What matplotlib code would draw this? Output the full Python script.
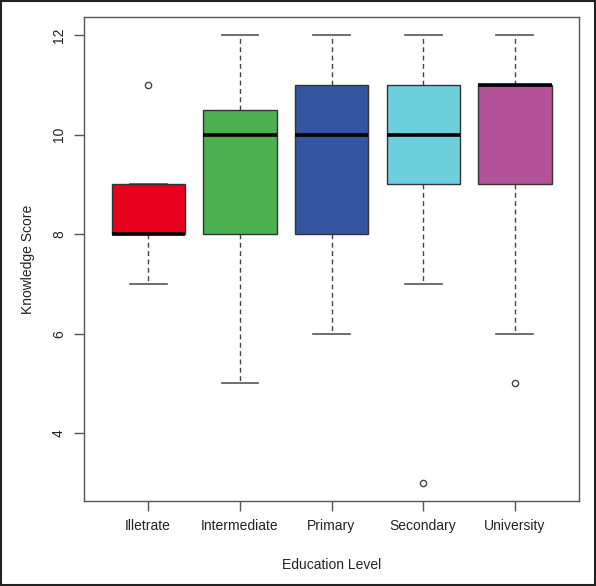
import matplotlib
matplotlib.use("Agg")
import matplotlib.pyplot as plt
from matplotlib.patches import Rectangle

plt.rcParams['font.family'] = ['Liberation Sans', 'DejaVu Sans']

# --- data -------------------------------------------------------------------
levels = ["Illetrate", "Intermediate", "Primary", "Secondary", "University"]
whisker_lo = [7, 5, 6, 7, 6]
q1 = [8, 8, 8, 9, 9]
median = [8, 10, 10, 10, 11]
q3 = [9, 10.5, 11, 11, 11]
whisker_hi = [9, 12, 12, 12, 12]
outliers = [[11], [], [], [3], [5]]
colors = ["#E8001F", "#4CB050", "#3456A0", "#6DCFDB", "#B35199"]

stats = [dict(label=lab, whislo=lo, q1=a, med=m, q3=b, whishi=hi, fliers=fl)
         for lab, lo, a, m, b, hi, fl in zip(levels, whisker_lo, q1, median, q3,
                                              whisker_hi, outliers)]

fig = plt.figure(figsize=(5.96, 5.86), dpi=100)
ax = fig.add_axes([84 / 596, 1 - 501 / 586, 495 / 596, 484 / 586])

edge = "#333333"
bp = ax.bxp(stats, positions=range(1, 6), widths=0.8, patch_artist=True,
            boxprops=dict(edgecolor=edge, linewidth=1.0, zorder=2),
            medianprops=dict(color="black", linewidth=2.6, solid_capstyle="butt",
                             zorder=3),
            whiskerprops=dict(color="#444444", linewidth=1.0,
                              linestyle=(0, (3.5, 2.5)), zorder=1.5),
            capprops=dict(color="#555555", linewidth=1.2, zorder=1.5),
            capwidths=0.4,
            flierprops=dict(marker="o", markersize=4.5, markerfacecolor="white",
                            markeredgecolor="#444444", markeredgewidth=1.0))
for patch, c in zip(bp["boxes"], colors):
    patch.set_facecolor(c)

ax.set_xlim(0.3, 5.7)
ax.set_ylim(2.64, 12.36)
ax.set_yticks([4, 6, 8, 10, 12])
for lbl in ax.get_yticklabels():
    lbl.set_rotation(90)
    lbl.set_verticalalignment("center")
ax.tick_params(axis="both", direction="out", length=7, width=1.0,
               color="#555555", labelsize=10, labelcolor="#222222", pad=6)
for sp in ax.spines.values():
    sp.set_color("#555555")
    sp.set_linewidth(1.0)
ax.set_xlabel("Education Level", fontsize=10, color="#222222", labelpad=18)
ax.set_ylabel("Knowledge Score", fontsize=10, color="#222222", labelpad=12)

# outer frame around the whole image
fig.patches.append(Rectangle((0.001, 0.001), 0.998, 0.998, transform=fig.transFigure,
                             fill=False, edgecolor="#222222", linewidth=1.5))

fig.savefig("out.png", dpi=100)
